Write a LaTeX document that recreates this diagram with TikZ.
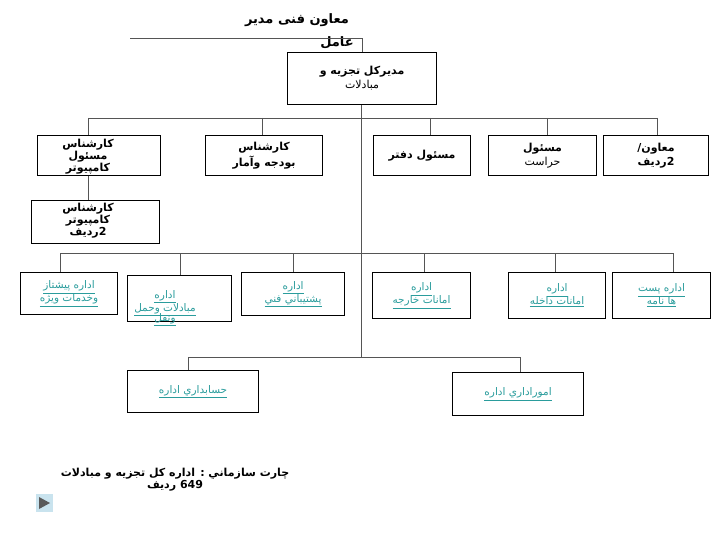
\documentclass[tikz,border=0pt]{standalone}
\usepackage{fontspec}
\TeXXeTstate=1
\newfontfamily\arabicfont[Script=Arabic]{DejaVu Sans}
\newcommand{\ar}[1]{{\arabicfont\beginR #1\endR}}
\newcommand{\arl}[1]{{\arabicfont\underline{\beginR #1\endR}}}
\definecolor{linkc}{HTML}{2A9C9C}
\definecolor{linec}{HTML}{555555}
\begin{document}
\begin{tikzpicture}[x=1pt,y=-1pt,
  box/.style={draw=black,line width=1.1pt,anchor=north west,inner sep=0pt},
  bt/.style={font=\bfseries\fontsize{11}{12}\selectfont,align=center,inner sep=0pt},
  lt/.style={font=\fontsize{10.5}{13}\selectfont,text=linkc,align=center,inner sep=0pt},
  conn/.style={draw=linec,line width=0.8pt}]
\useasboundingbox (0,0) rectangle (720,540);
% title
\node[bt,font=\bfseries\fontsize{13}{14}\selectfont] (title) at (297,20) {\ar{معاون فنی مدیر}};
\node[bt,font=\bfseries\fontsize{13}{14}\selectfont] (title2) at (337,43) {\ar{عامل}};
% boxes
\node[box,minimum width=149pt,minimum height=52pt] (main) at (287,52) {};
\node[bt] at (main.center) {\ar{مدیرکل تجزیه و}\\[2pt]{\mdseries\ar{مبادلات}}};
\coordinate (tl) at (130,38);
\draw[conn] (tl) -| (main.north);
% row1
\node[box,minimum width=123pt,minimum height=40pt] (A) at (37,135) {};
\node[bt] at (88,157) {\ar{کارشناس}\\\ar{مسئول}\\\ar{کامپیوتر}};
\node[box,minimum width=128pt,minimum height=43pt] (A2) at (31,200) {};
\node[bt] at (88,221) {\ar{کارشناس}\\\ar{کامپیوتر}\\\ar{2ردیف}};
\node[box,minimum width=117pt,minimum height=40pt] (B) at (205,135) {};
\node[bt] at (B.center) {\ar{کارشناس}\\[2pt]\ar{بودجه وآمار}};
\node[box,minimum width=97pt,minimum height=40pt] (C) at (373,135) {};
\node[bt] at (C.center) {\ar{مسئول دفتر}};
\node[box,minimum width=108pt,minimum height=40pt] (D) at (488,135) {};
\node[bt] at (D.center) {\ar{مسئول}\\[2pt]{\mdseries\ar{حراست}}};
\node[box,minimum width=105pt,minimum height=40pt] (E) at (603,135) {};
\node[bt] at (E.center) {\ar{معاون/}\\[2pt]\ar{2ردیف}};
% row2
\node[box,minimum width=97pt,minimum height=42pt] (F) at (20,272) {};
\node[lt] at (F.center) {\arl{اداره پيشتاز}\\\arl{وخدمات ويژه}};
\node[box,minimum width=104pt,minimum height=46pt] (G) at (127,275) {};
\node[lt] at (165,308) {\arl{اداره}\\\arl{مبادلات وحمل}\\[-3pt]\arl{ونقل}};
\node[box,minimum width=103pt,minimum height=43pt] (H) at (241,272) {};
\node[lt] at (H.center) {\arl{اداره}\\\arl{پشتيباني فني}};
\node[box,minimum width=98pt,minimum height=46pt] (I) at (372,272) {};
\node[lt] at (I.center) {\arl{اداره}\\\arl{امانات خارجه}};
\node[box,minimum width=97pt,minimum height=46pt] (J) at (508,272) {};
\node[lt] at (J.center) {\arl{اداره}\\\arl{امانات داخله}};
\node[box,minimum width=98pt,minimum height=46pt] (K) at (612,272) {};
\node[lt] at (K.center) {\arl{اداره پست}\\\arl{ها نامه}};
% row3
\node[box,minimum width=131pt,minimum height=42pt] (L) at (127,370) {};
\node[lt] at (L.center) {\arl{حسابداري  اداره}};
\node[box,minimum width=131pt,minimum height=43pt] (M) at (452,372) {};
\node[lt] at (M.center) {\arl{اموراداري  اداره}};
% connectors
\coordinate (h1) at (361,118);
\coordinate (h2) at (361,253);
\coordinate (h3) at (361,357);
\draw[conn] (main.south -| h1) -- (h3);
\draw[conn] (88,118) -- (657,118);
\foreach \n/\x in {A/88,B/262,C/430,D/547,E/657} \draw[conn] (\x,118) -- (\n.north -| \x,0);
\draw[conn] (A.south -| 88,0) -- (A2.north -| 88,0);
\draw[conn] (60,253) -- (673,253);
\foreach \n/\x in {F/60,G/180,H/293,I/424,J/555,K/673} \draw[conn] (\x,253) -- (\n.north -| \x,0);
\draw[conn] (188,357) -- (520,357);
\foreach \n/\x in {L/188,M/520} \draw[conn] (\x,357) -- (\n.north -| \x,0);
% caption
\node[bt,font=\bfseries\fontsize{11}{12}\selectfont] (cap) at (175,480) {\ar{چارت سازماني : اداره کل تجزیه و مبادلات}\\\ar{649 ردیف}};
\node[draw=white,fill=gray!45!cyan!30!white,minimum width=18pt,minimum height=19pt,inner sep=0pt] (play) at (44,503) {};
\fill[gray!70!black] ([shift={(-5,-6)}]play.center) -- ([shift={(6,0)}]play.center) -- ([shift={(-5,6)}]play.center) -- cycle;
\end{tikzpicture}
\end{document}
